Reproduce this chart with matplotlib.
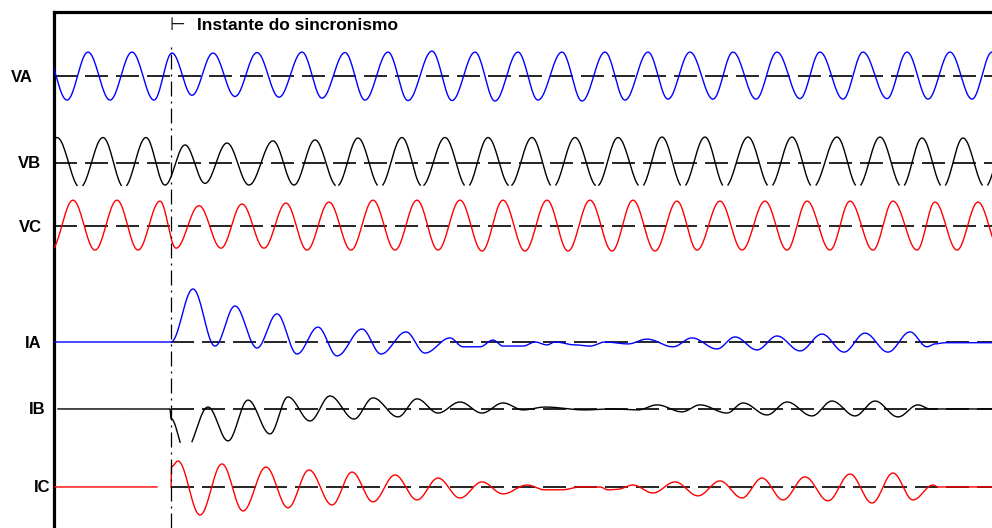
import numpy as np
import matplotlib
matplotlib.use("Agg")
import matplotlib.pyplot as plt

# ---------------- data (time in samples, values in p.u.) ----------------
t_sincronismo = 116.5
t_fim = 938

labels = ["VA", "VB", "VC", "IA", "IB", "IC"]
colors = ["#0000ff", "#000000", "#ff0000", "#0000ff", "#000000", "#ff0000"]

# extrema (peaks / troughs)
va_t = [-9, 13, 34, 56, 78, 100, 118, 138, 159, 181, 203, 225, 248, 268, 291, 311, 334, 354,
        378, 398, 421, 441, 464, 484, 508, 528, 551, 571, 594, 614, 636, 659, 679, 702, 723, 746,
        766, 789, 809, 833, 853, 874, 896, 918, 938, 958]
va_v = [1.0, -1.0, 1.0, -1.0, 1.0, -1.0, 0.96, -0.8, 0.96, -0.85, 0.98, -0.88, 1.0, -0.92, 0.98, -1.0, 1.0, -1.02,
        1.04, -1.02, 1.0, -1.04, 1.0, -1.0, 1.0, -1.04, 1.0, -1.0, 1.0, -0.96, 1.0, -0.96, 1.0, -0.96, 1.0, -0.94,
        1.0, -0.96, 1.0, -0.94, 1.0, -0.96, 1.0, -0.96, 1.0, -0.96]

vb_t = [-19, 3, 26, 49, 70, 92, 111, 131, 151, 173, 195, 219, 240, 261, 283, 304, 326, 348,
        368, 391, 413, 434, 456, 478, 499, 521, 543, 564, 587, 608, 629, 651, 671, 694, 716, 738,
        759, 783, 804, 826, 848, 868, 889, 909, 931, 952]
vb_v = [-1.02, 1.06, -1.02, 1.06, -1.02, 1.06, -0.92, 0.75, -0.85, 0.83, -0.92, 0.92, -0.92, 0.96, -0.96, 1.04, -1.0, 1.06,
        -0.96, 1.06, -1.0, 1.06, -0.96, 1.06, -1.0, 1.06, -0.96, 1.06, -1.0, 1.08, -1.0, 1.08, -1.0, 1.08, -1.0, 1.08,
        -1.0, 1.08, -1.0, 1.08, -1.0, 1.04, -1.0, 1.04, -1.0, 1.04]

vc_t = [-3, 19, 41, 63, 84, 106, 122, 145, 167, 188, 210, 232, 253, 275, 297, 319, 341, 363,
        384, 406, 428, 449, 471, 493, 514, 536, 558, 579, 601, 623, 643, 666, 688, 711, 733, 753,
        776, 796, 819, 839, 863, 881, 903, 924, 946]
vc_v = [-1.0, 1.08, -1.0, 1.08, -1.0, 1.04, -0.92, 0.85, -0.92, 0.92, -0.92, 0.96, -1.0, 1.0, -1.0, 1.08, -1.0, 1.08,
        -1.0, 1.08, -1.04, 1.08, -1.04, 1.08, -1.04, 1.08, -1.04, 1.08, -1.04, 1.04, -1.0, 1.04, -1.0, 1.04, -1.0, 1.04,
        -1.0, 1.04, -1.0, 1.04, -1.0, 1.0, -1.0, 1.0, -1.0]

ia_t = [1, 117, 139, 161, 181, 203, 223, 243, 264, 283, 308, 327, 352, 371, 396, 409, 426, 439, 449, 469,
        481, 493, 501, 521, 536, 551, 574, 593, 619, 638, 663, 681, 703, 723, 746, 768, 790, 811, 834, 856,
        873, 881, 891, 938]
ia_v = [0.0, 0.0, 2.21, -0.17, 1.5, -0.25, 1.17, -0.5, 0.62, -0.58, 0.54, -0.5, 0.42, -0.46, 0.17, -0.2, -0.2, 0.08, -0.17, -0.17,
        0.0, -0.12, 0.0, -0.12, -0.17, 0.0, -0.08, 0.12, -0.2, 0.17, -0.29, 0.21, -0.33, 0.25, -0.37, 0.33, -0.42, 0.37, -0.42, 0.42,
        -0.2, -0.08, -0.03, -0.03]

ib_t = [4, 116, 117, 131, 154, 174, 194, 216, 234, 256, 276, 300, 319, 344, 363, 384, 406, 428, 449, 469,
        491, 531, 556, 584, 603, 628, 646, 673, 689, 713, 733, 758, 778, 801, 821, 844, 864, 876, 938]
ib_v = [0.0, 0.0, -0.4, -1.75, 0.08, -1.33, 0.37, -1.04, 0.5, -0.5, 0.54, -0.42, 0.46, -0.33, 0.42, -0.17, 0.29, -0.17, 0.25, -0.04,
        0.08, -0.04, 0.0, -0.04, 0.17, -0.12, 0.17, -0.17, 0.25, -0.25, 0.29, -0.29, 0.33, -0.29, 0.33, -0.33, 0.17, 0.0, 0.0]

ic_t = [1, 103, 110, 117, 117.5, 124, 146, 168, 189, 212, 234, 255, 278, 298, 319, 341, 363, 384, 406, 428,
        449, 473, 491, 508, 526, 546, 554, 563, 579, 599, 621, 644, 666, 688, 708, 729, 751, 774, 796, 818,
        839, 859, 879, 884, 938]
ic_v = [0.0, 0.0, np.nan, 0.0, 0.85, 1.08, -1.17, 0.96, -1.0, 0.83, -0.87, 0.71, -0.75, 0.62, -0.62, 0.5, -0.54, 0.37, -0.46, 0.21,
        -0.29, 0.08, -0.12, -0.12, 0.0, 0.0, -0.12, -0.1, 0.08, -0.25, 0.21, -0.37, 0.25, -0.46, 0.37, -0.54, 0.42, -0.58, 0.54, -0.67,
        0.58, -0.54, 0.08, 0.0, 0.0]

# vertical position of each channel (layout) and trace clipping limits of the recorder
offsets = [18.83, 15.21, 12.58, 7.75, 4.96, 1.71]
clip_low = [None, -0.95, None, None, -1.42, None]


def trace(t_ext, v_ext, m=24):
    """Draw a smooth curve through successive extrema (half-cosine between them)."""
    n = min(len(t_ext), len(v_ext))
    ts, vs = [], []
    for i in range(n - 1):
        t0, t1 = t_ext[i], t_ext[i + 1]
        v0, v1 = v_ext[i], v_ext[i + 1]
        s = np.linspace(0, 1, m)
        ts.append(t0 + s * (t1 - t0))
        vs.append((v0 + v1) / 2 + (v0 - v1) / 2 * np.cos(np.pi * s))
    return np.concatenate(ts), np.concatenate(vs)


series = [(va_t, va_v), (vb_t, vb_v), (vc_t, vc_v), (ia_t, ia_v), (ib_t, ib_v), (ic_t, ic_v)]

W, H = 992, 528
fig = plt.figure(figsize=(W / 100, H / 100), dpi=100)
ax = fig.add_axes([54 / W, 0, 938 / W, 516 / H])
ax.set_xlim(0, t_fim)
ax.set_ylim(0, 21.5)
ax.set_xticks([])
ax.set_yticks([])
for side in ["right", "bottom"]:
    ax.spines[side].set_visible(False)
for side in ["left", "top"]:
    ax.spines[side].set_linewidth(2.3)
    ax.spines[side].set_color("black")

label_right_px = [33, 41, 42, 42, 45, 50]

for k, ((tt, vv), lab, col, off, cl) in enumerate(zip(series, labels, colors, offsets, clip_low)):
    # baseline
    start = 0 if k < 3 else t_sincronismo
    ax.plot([start, t_fim], [off, off], color="black", lw=1.2,
            linestyle=(0, (13.8, 4.8)), zorder=2)
    x, y = trace(tt, vv)
    if cl is not None:
        y = np.where(y < cl, np.nan, y)
    ax.plot(x, off + y, color=col, lw=1.0, zorder=3, solid_joinstyle="round")
    # channel label
    fig.text(label_right_px[k] / W, 1 - (12 + (21.5 - off) * 24 + 1) / H,
             lab, ha="right", va="center", fontsize=12, fontweight="bold",
             family=["Liberation Sans", "DejaVu Sans"])

# instant of synchronism
ax.axvline(t_sincronismo, ymin=0, ymax=0.936, color="black", lw=0.9,
           linestyle=(0, (12, 4, 1.6, 4)), zorder=4)
ax.text(t_sincronismo - 1, 1 - (25 - 12) / 516, "\u22a2", transform=ax.get_xaxis_transform(),
        ha="left", va="center", fontsize=13, family="DejaVu Sans")
ax.text((197 - 54) / 938, 1 - (26 - 12) / 516, "Instante do sincronismo", transform=ax.transAxes,
        ha="left", va="center", fontsize=12.5, fontweight="bold",
        family=["Liberation Sans", "DejaVu Sans"])

fig.savefig("out.png", dpi=100)
